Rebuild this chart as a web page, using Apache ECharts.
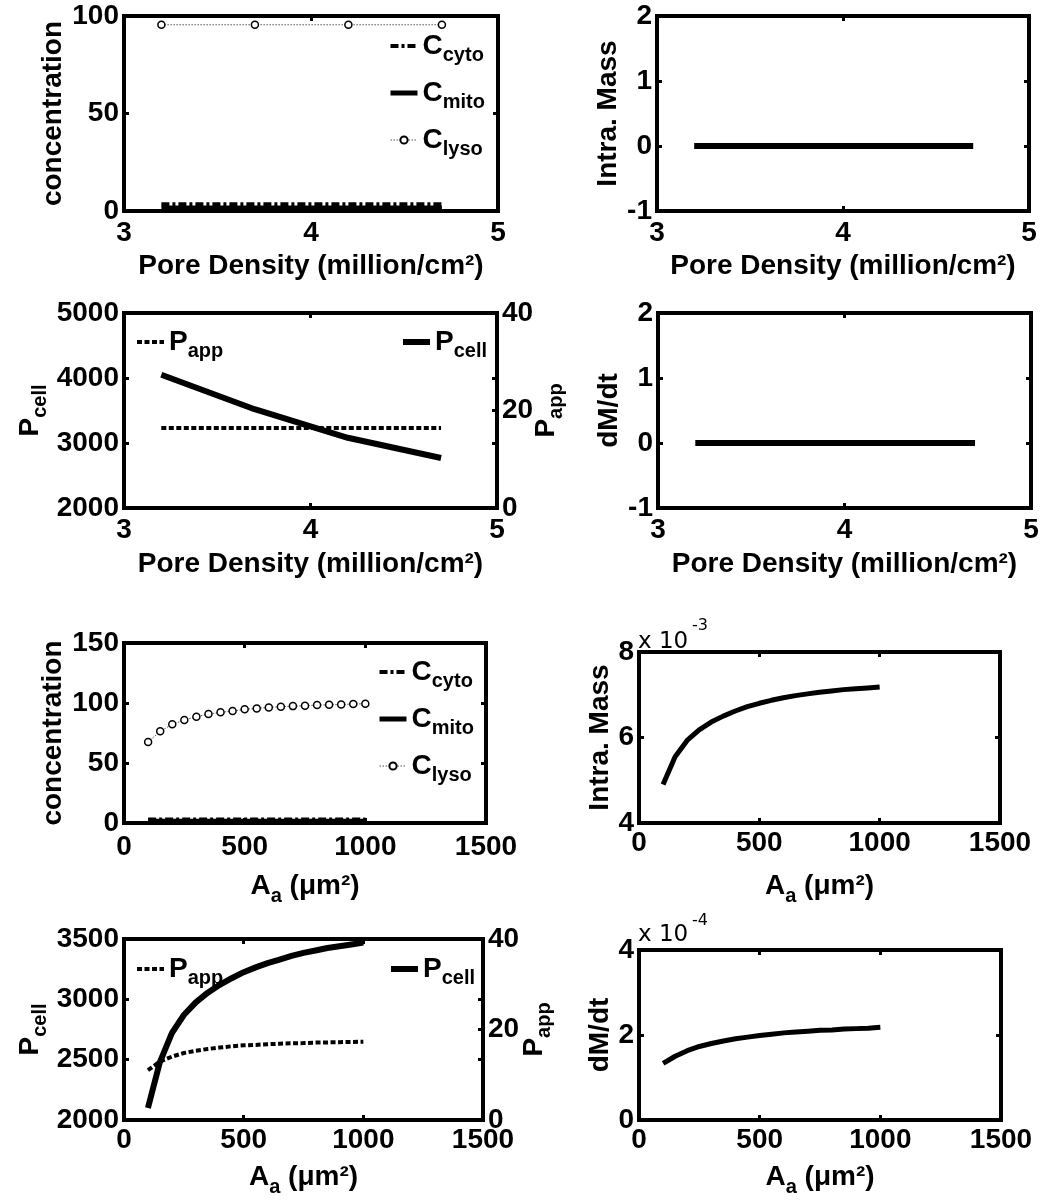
<!DOCTYPE html>
<html>
<head>
<meta charset="utf-8">
<script src="https://cdn.jsdelivr.net/npm/echarts@6/dist/echarts.min.js"></script>
<style>
  html, body { margin: 0; padding: 0; background: #fff; }
  #chart { width: 1041px; height: 1204px; }
</style>
</head>
<body>
<div id="chart"></div>
<script>
// ---- Pore density sweep (million/cm^2) ----
const poreDensity   = [3.2, 3.7, 4.2, 4.7];
const cCytoPore     = [3.4, 3.4, 3.4, 3.4];
const cMitoPore     = [1.5, 1.5, 1.5, 1.5];
const cLysoPore     = [95.5, 95.5, 95.5, 95.5];
const intraMassPore = [0, 0, 0, 0];
const dMdtPore      = [0, 0, 0, 0];
const pCellPore     = [4050, 3520, 3080, 2770];
const pAppPore      = [16.4, 16.4, 16.4, 16.4];

// ---- Apical area sweep (um^2) ----
const areaAa        = [100, 150, 200, 250, 300, 350, 400, 450, 500, 550, 600, 650, 700, 750, 800, 850, 900, 950, 1000];
const cCytoArea     = [3, 3, 3, 3, 3, 3, 3, 3, 3, 3, 3, 3, 3, 3, 3, 3, 3, 3, 3];
const cMitoArea     = [1.5, 1.5, 1.5, 1.5, 1.5, 1.5, 1.5, 1.5, 1.5, 1.5, 1.5, 1.5, 1.5, 1.5, 1.5, 1.5, 1.5, 1.5, 1.5];
const cLysoArea     = [67.5, 76.4, 82.2, 85.8, 88.6, 90.8, 92.2, 93.3, 94.7, 95.5, 96.3, 96.9, 97.4, 97.7, 98.3, 98.5, 98.8, 99.1, 99.4];
const intraMassArea = [0.00490, 0.00555, 0.00593, 0.00618, 0.00636, 0.00650, 0.00662, 0.00672, 0.00680, 0.00687,
                       0.00693, 0.00698, 0.00702, 0.00706, 0.00709, 0.00712, 0.00714, 0.00716, 0.00718];
const dMdtArea      = [0.000133, 0.000150, 0.000163, 0.000173, 0.000180, 0.000186, 0.000191, 0.000195, 0.000199, 0.000202,
                       0.000205, 0.000207, 0.000209, 0.000211, 0.000212, 0.000214, 0.000215, 0.000216, 0.000218];
const pCellArea     = [2100, 2480, 2720, 2870, 2975, 3055, 3120, 3175, 3225, 3265, 3300, 3330, 3360, 3385, 3405, 3425, 3440, 3455, 3470];
const pAppArea      = [11.0, 12.9, 14.0, 14.8, 15.3, 15.7, 16.0, 16.3, 16.5, 16.6, 16.75, 16.85, 16.95, 17.0, 17.1, 17.15, 17.2, 17.25, 17.3];

// ---- Tick values ----
const poreTicks       = [3, 4, 5];
const areaTicks       = [0, 500, 1000, 1500];
const concTicksPore   = [0, 50, 100];
const massTicksPore   = [-1, 0, 1, 2];
const pCellTicksPore  = [2000, 3000, 4000, 5000];
const pAppTicks       = [0, 20, 40];
const concTicksArea   = [0, 50, 100, 150];
const massTicksArea   = [0.004, 0.006, 0.008];
const pCellTicksArea  = [2000, 2500, 3000, 3500];
const dMdtTicksArea   = [0, 0.0002, 0.0004];

const FONT = "'Liberation Sans', Arial, Helvetica, sans-serif";
const BIG = 28, SUB = 20, TICK = 28;
const rich = {
  m: { fontFamily: FONT, fontWeight: 'bold', fontSize: BIG, lineHeight: 39, color: '#000' },
  s: { fontFamily: FONT, fontWeight: 'bold', fontSize: SUB, lineHeight: 20, padding: [19, 0, 0, 0], color: '#000' }
};

const zip = (xs, ys) => xs.map((x, i) => [x, ys[i]]);
const range = t => ({ min: t[0], max: t[t.length - 1], interval: +(t[1] - t[0]).toPrecision(12) });

const grids = [], xAxes = [], yAxes = [], series = [], legends = [], graphics = [];

const frameLine = { show: true, onZero: false, lineStyle: { color: '#000', width: 4, cap: 'square' } };
const tickIn = { show: true, inside: true, length: 5, lineStyle: { color: '#000', width: 3 } };
const labelStyle = (margin, fmt) => ({
  show: true, margin, color: '#000', fontFamily: FONT, fontWeight: 'bold', fontSize: TICK,
  showMinLabel: true, showMaxLabel: true, formatter: fmt || (v => String(v))
});

function panel(p) {
  const gi = grids.length;
  grids.push({ left: p.box[0], top: p.box[1], width: p.box[2], height: p.box[3], outerBoundsMode: 'none', containLabel: false });
  const xr = range(p.xt), yr = range(p.yt);
  const xi = xAxes.length;
  xAxes.push({
    type: 'value', gridIndex: gi, position: 'bottom', ...xr,
    axisLine: frameLine, axisTick: tickIn, splitLine: { show: false },
    axisLabel: labelStyle(p.xMargin),
    name: p.xName, nameLocation: 'middle', nameGap: p.xGap, nameMoveOverlap: false,
    nameTextStyle: { rich }
  });
  xAxes.push({
    type: 'value', gridIndex: gi, position: 'top', ...xr,
    axisLine: frameLine, axisTick: tickIn, splitLine: { show: false }, axisLabel: { show: false }
  });
  const yi = yAxes.length;
  yAxes.push({
    type: 'value', gridIndex: gi, position: 'left', ...yr,
    axisLine: frameLine, axisTick: tickIn, splitLine: { show: false },
    axisLabel: labelStyle(5, p.yFmt),
    name: p.yName, nameLocation: 'middle', nameRotate: 90, nameGap: p.yGap, nameMoveOverlap: false,
    nameTextStyle: { rich }
  });
  yAxes.push({
    type: 'value', gridIndex: gi, position: 'right', ...yr,
    axisLine: frameLine, axisTick: tickIn, splitLine: { show: false }, axisLabel: { show: false }
  });
  let y2 = null;
  if (p.y2t) {
    y2 = yAxes.length;
    yAxes.push({
      type: 'value', gridIndex: gi, position: 'right', ...range(p.y2t),
      axisLine: frameLine, axisTick: tickIn, splitLine: { show: false },
      axisLabel: labelStyle(5),
      name: p.y2Name, nameLocation: 'middle', nameRotate: 90, nameGap: p.y2Gap, nameMoveOverlap: false,
      nameTextStyle: { rich }
    });
  }
  return { xi, yi, y2 };
}

// Line styles; plain lines hide their legend marker so only the stroke sample shows
const base = { type: 'line', silent: true, animation: false, emphasis: { disabled: true }, z: 3 };
const noMarker = { symbol: 'none', itemStyle: { color: '#000', opacity: 0 } };
const solid = w => ({ ...base, ...noMarker, lineStyle: { color: '#000', width: w, type: 'solid', cap: 'butt' } });
const dashDot = () => ({ ...base, ...noMarker, lineStyle: { color: '#000', width: 4, type: [8, 3, 3, 3] } });
const dashed = () => ({ ...base, ...noMarker, lineStyle: { color: '#000', width: 4, type: [5, 2.5] } });
const dottedMarkers = () => ({
  ...base, symbol: 'circle', symbolSize: 7, showSymbol: true, showAllSymbol: true,
  itemStyle: { color: '#fff', borderColor: '#000', borderWidth: 1.5 },
  lineStyle: { color: '#555', width: 1, type: [1.5, 1.5] }
});

const legendNames = {
  cytoPore: '{m|C}{s|cyto}', mitoPore: '{m|C}{s|mito}', lysoPore: '{m|C}{s|lyso}',
  cytoArea: '{m|C}{s|cyto}', mitoArea: '{m|C}{s|mito}', lysoArea: '{m|C}{s|lyso}',
  pAppPore: '{m|P}{s|app}', pCellPore: '{m|P}{s|cell}',
  pAppArea: '{m|P}{s|app}', pCellArea: '{m|P}{s|cell}'
};
const legendBase = {
  orient: 'vertical', padding: 0, itemWidth: 27, itemHeight: 9, itemGap: 8, z: 1,
  selectedMode: false, formatter: n => legendNames[n], textStyle: { rich },
  lineStyle: { width: 'inherit' }
};

// Row 1 left: concentrations vs pore density
let a = panel({ box: [124, 16, 374, 195], xt: poreTicks, yt: concTicksPore, xMargin: 8,
  xName: '{m|Pore Density (million/cm²)}', xGap: 36,
  yName: '{m|concentration}', yGap: 51 });
series.push({ ...dashDot(), name: 'cytoPore', xAxisIndex: a.xi, yAxisIndex: a.yi, data: zip(poreDensity, cCytoPore) });
series.push({ ...solid(5), name: 'mitoPore', xAxisIndex: a.xi, yAxisIndex: a.yi, data: zip(poreDensity, cMitoPore) });
series.push({ ...dottedMarkers(), name: 'lysoPore', xAxisIndex: a.xi, yAxisIndex: a.yi, data: zip(poreDensity, cLysoPore) });
legends.push({ ...legendBase, left: 388, top: 26.5, data: ['cytoPore', 'mitoPore', 'lysoPore'] });

// Row 1 right: intracellular mass vs pore density
a = panel({ box: [657, 16, 372, 195], xt: poreTicks, yt: massTicksPore, xMargin: 8,
  xName: '{m|Pore Density (million/cm²)}', xGap: 36,
  yName: '{m|Intra. Mass}', yGap: 29 });
series.push({ ...solid(6), name: 'massPore', xAxisIndex: a.xi, yAxisIndex: a.yi, data: zip(poreDensity, intraMassPore) });

// Row 2 left: permeabilities vs pore density (two y scales)
a = panel({ box: [124, 313, 373, 195], xt: poreTicks, yt: pCellTicksPore, xMargin: 8,
  xName: '{m|Pore Density (million/cm²)}', xGap: 37,
  yName: '{m|P}{s|cell}', yGap: 74,
  y2t: pAppTicks, y2Name: '{m|P}{s|app}', y2Gap: 30 });
series.push({ ...dashed(), name: 'pAppPore', xAxisIndex: a.xi, yAxisIndex: a.y2, data: zip(poreDensity, pAppPore) });
series.push({ ...solid(6), name: 'pCellPore', xAxisIndex: a.xi, yAxisIndex: a.yi, data: zip(poreDensity, pCellPore) });
legends.push({ ...legendBase, left: 135, top: 322.5, data: ['pAppPore'] });
legends.push({ ...legendBase, left: 400, top: 322.5, data: ['pCellPore'] });

// Row 2 right: dM/dt vs pore density
a = panel({ box: [658, 313, 373, 195], xt: poreTicks, yt: massTicksPore, xMargin: 8,
  xName: '{m|Pore Density (million/cm²)}', xGap: 37,
  yName: '{m|dM/dt}', yGap: 29 });
series.push({ ...solid(6), name: 'dMdtPore', xAxisIndex: a.xi, yAxisIndex: a.yi, data: zip(poreDensity, dMdtPore) });

// Row 3 left: concentrations vs apical area
a = panel({ box: [124, 643, 362, 180], xt: areaTicks, yt: concTicksArea, xMargin: 10,
  xName: '{m|A}{s|a}{m| (μm²)}', xGap: 44,
  yName: '{m|concentration}', yGap: 51 });
series.push({ ...dashDot(), name: 'cytoArea', xAxisIndex: a.xi, yAxisIndex: a.yi, data: zip(areaAa, cCytoArea) });
series.push({ ...solid(5), name: 'mitoArea', xAxisIndex: a.xi, yAxisIndex: a.yi, data: zip(areaAa, cMitoArea) });
series.push({ ...dottedMarkers(), name: 'lysoArea', xAxisIndex: a.xi, yAxisIndex: a.yi, data: zip(areaAa, cLysoArea) });
legends.push({ ...legendBase, left: 377, top: 652.5, data: ['cytoArea', 'mitoArea', 'lysoArea'] });

// Row 3 right: intracellular mass vs apical area (x 10^-3)
a = panel({ box: [639, 652, 361, 171], xt: areaTicks, yt: massTicksArea, xMargin: 6.5,
  xName: '{m|A}{s|a}{m| (μm²)}', xGap: 44,
  yName: '{m|Intra. Mass}', yGap: 19, yFmt: v => String(Math.round(v * 1e3)) });
series.push({ ...solid(5), name: 'massArea', xAxisIndex: a.xi, yAxisIndex: a.yi, data: zip(areaAa, intraMassArea) });

// Row 4 left: permeabilities vs apical area (two y scales)
a = panel({ box: [124, 939, 359, 181], xt: areaTicks, yt: pCellTicksArea, xMargin: 6.5,
  xName: '{m|A}{s|a}{m| (μm²)}', xGap: 38,
  yName: '{m|P}{s|cell}', yGap: 74,
  y2t: pAppTicks, y2Name: '{m|P}{s|app}', y2Gap: 32 });
series.push({ ...dashed(), name: 'pAppArea', xAxisIndex: a.xi, yAxisIndex: a.y2, data: zip(areaAa, pAppArea) });
series.push({ ...solid(6), name: 'pCellArea', xAxisIndex: a.xi, yAxisIndex: a.yi, data: zip(areaAa, pCellArea) });
legends.push({ ...legendBase, left: 135, top: 949.5, data: ['pAppArea'] });
legends.push({ ...legendBase, left: 388, top: 949.5, data: ['pCellArea'] });

// Row 4 right: dM/dt vs apical area (x 10^-4)
a = panel({ box: [639, 950, 362, 170], xt: areaTicks, yt: dMdtTicksArea, xMargin: 6.5,
  xName: '{m|A}{s|a}{m| (μm²)}', xGap: 38,
  yName: '{m|dM/dt}', yGap: 19, yFmt: v => String(Math.round(v * 1e4)) });
series.push({ ...solid(5), name: 'dMdtArea', xAxisIndex: a.xi, yAxisIndex: a.yi, data: zip(areaAa, dMdtArea) });

// Exponent annotations above the scaled y axes
const EXP_FONT = "'DejaVu Sans', 'Liberation Sans', sans-serif";
function exponent(grid, power, dy, dySup) {
  graphics.push({ type: 'text', x: grid.left - 1, y: grid.top + dy, silent: true,
    style: { text: 'x 10', fontFamily: EXP_FONT, fontSize: 23, fill: '#000', align: 'left', verticalAlign: 'middle' } });
  graphics.push({ type: 'text', x: grid.left + 53, y: grid.top + dySup, silent: true,
    style: { text: power, fontFamily: EXP_FONT, fontSize: 16, fill: '#000', align: 'left', verticalAlign: 'middle' } });
}
exponent(grids[5], '-3', -10, -26);
exponent(grids[7], '-4', -15, -29);

const chart = echarts.init(document.getElementById('chart'), null, { renderer: 'canvas' });
chart.setOption({
  backgroundColor: '#fff',
  animation: false,
  grid: grids,
  xAxis: xAxes,
  yAxis: yAxes,
  legend: legends,
  series: series,
  graphic: graphics
});
</script>
</body>
</html>
